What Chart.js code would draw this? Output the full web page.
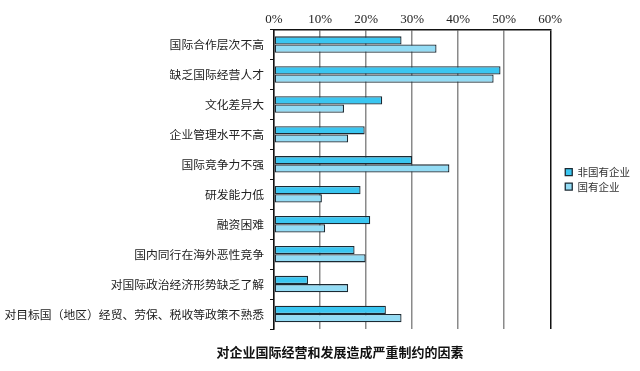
<!DOCTYPE html>
<html><head><meta charset="utf-8">
<script src="https://cdn.jsdelivr.net/npm/chart.js@4/dist/chart.umd.min.js"></script>
<style>html,body{margin:0;padding:0;background:#fff}#wrap{width:640px;height:371px}</style>
</head><body><div id="wrap"><canvas id="c" width="640" height="371"></canvas></div>
<script>
const categories = ["国际合作层次不高","缺乏国际经营人才","文化差异大","企业管理水平不高","国际竞争力不强","研发能力低","融资困难","国内同行在海外恶性竞争","对国际政治经济形势缺乏了解","对目标国（地区）经贸、劳保、税收等政策不熟悉"];
const nonState = [27.7,49.2,23.5,19.7,30.0,18.8,20.9,17.5,7.4,24.3];
const state = [35.3,47.7,15.2,16.1,38.1,10.4,11.1,19.9,16.1,27.7];
const seriesNames = ["非国有企业","国有企业"];
const xTicks = [0,10,20,30,40,50,60];
const titleText = "对企业国际经营和发展造成严重制约的因素";

const cjk = "'Noto Sans CJK SC', sans-serif";

const bottomTitle = {
  id: 'bottomTitle',
  afterDraw(chart) {
    const ctx = chart.ctx;
    ctx.save();
    ctx.font = "bold 13px " + cjk;
    ctx.fillStyle = '#111';
    ctx.textAlign = 'center';
    ctx.textBaseline = 'middle';
    ctx.fillText(titleText, chart.width / 2 + 20, chart.chartArea.bottom + 23);
    ctx.restore();
  }
};

// shift the legend into the right padding area, leaving a gap beside the plot
const legendShift = {
  id: 'legendShift',
  afterLayout(chart) {
    const lg = chart.legend;
    const d = chart.options.layout.padding.right;
    if (lg) { lg.left += d; lg.right += d; }
  }
};

new Chart(document.getElementById('c'), {
  type: 'bar',
  data: {
    labels: categories,
    datasets: [
      {label: seriesNames[0], data: nonState, backgroundColor: '#3ac6f1', borderColor: '#1c2a33', borderWidth: 1.3, borderSkipped: false, categoryPercentage: 0.55, barPercentage: 1},
      {label: seriesNames[1], data: state, backgroundColor: '#93dcf5', borderColor: '#1c2a33', borderWidth: 1.3, borderSkipped: false, categoryPercentage: 0.55, barPercentage: 1}
    ]
  },
  plugins: [bottomTitle, legendShift],
  options: {
    indexAxis: 'y',
    responsive: false,
    animation: false,
    layout: {padding: {left: 0, right: 11, top: 10, bottom: 42}},
    scales: {
      x: {
        position: 'top',
        min: xTicks[0], max: xTicks[xTicks.length-1],
        afterBuildTicks: s => { s.ticks = xTicks.map(v => ({value: v})); },
        ticks: {callback: v => v + '%', color: '#222', font: {family: "'Liberation Serif', serif", size: 13}, padding: 2},
        grid: {color: c => (c.tick && c.tick.value === 60) ? '#111' : '#8a8a8a', lineWidth: 1.5, drawTicks: false},
        border: {color: '#111', width: 1.5}
      },
      y: {
        afterFit: s => { s.width = 274; },
        ticks: {color: '#222', font: {family: cjk, size: 11.8}, padding: 6},
        grid: {drawOnChartArea: false, color: '#111', tickLength: 4, offset: true},
        border: {color: '#111', width: 1.5}
      }
    },
    plugins: {
      legend: {
        position: 'right',
        fullSize: false,
        labels: {boxWidth: 7, boxHeight: 7, color: '#333', font: {family: cjk, size: 10.5}, padding: 4}
      },
      title: {display: false},
      tooltip: {enabled: false}
    }
  }
});
</script></body></html>
